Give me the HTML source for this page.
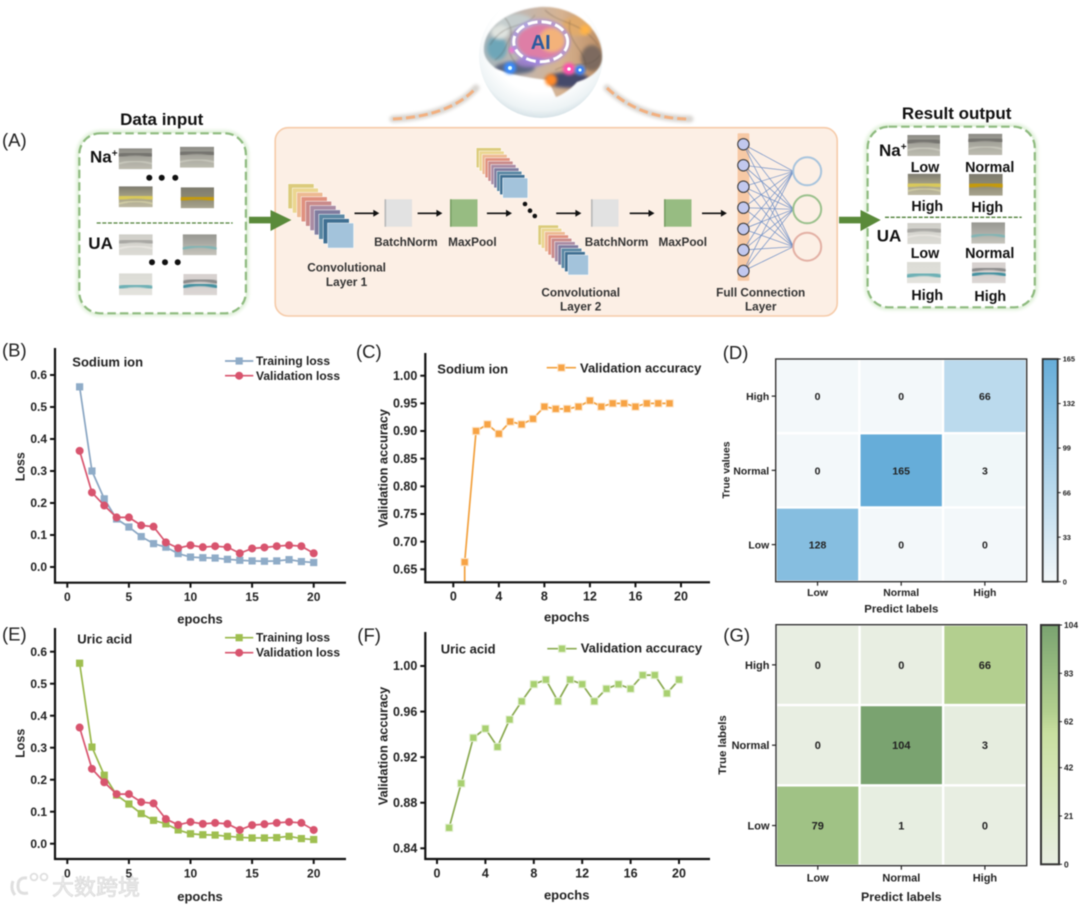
<!DOCTYPE html>
<html lang="en">
<head>
<meta charset="utf-8">
<title>CNN pipeline and training results</title>
<style>
html,body{margin:0;padding:0;background:#fff;width:1080px;height:905px;overflow:hidden}
#figure{display:block;filter:blur(.45px)}
text{font-family:"Liberation Sans","Noto Sans CJK SC",sans-serif}
.b{font-weight:bold}
.lbl{font-weight:bold;fill:#333;font-size:11.8px;text-anchor:middle}
.res{font-weight:bold;fill:#111;font-size:14.3px;text-anchor:middle}
.panel{font-size:18.5px;fill:#222}
.big{font-weight:bold;fill:#111;font-size:17px}
</style>
</head>
<body>
<svg id="figure" xmlns="http://www.w3.org/2000/svg" width="1080" height="905" viewBox="0 0 1080 905">
<defs>
  <filter id="soft" x="-20%" y="-20%" width="140%" height="140%"><feGaussianBlur stdDeviation="1.6"/></filter>
  <filter id="softer" x="-40%" y="-40%" width="180%" height="180%"><feGaussianBlur stdDeviation="3.5"/></filter>
  <filter id="brainSoft" x="-10%" y="-10%" width="120%" height="120%"><feGaussianBlur stdDeviation=".9"/></filter>
  <filter id="thumbBlur" x="-5%" y="-5%" width="110%" height="110%"><feGaussianBlur stdDeviation=".5"/></filter>
  <radialGradient id="sphereFill" cx=".5" cy=".38" r=".62"><stop offset=".66" stop-color="#fff"/><stop offset=".9" stop-color="#edf3f5"/><stop offset="1" stop-color="#d6e2e7"/></radialGradient>
  <linearGradient id="brainFill" x1="0" x2="1" y1="0" y2="0"><stop offset="0" stop-color="#a3b5bc"/><stop offset=".35" stop-color="#c2b6ae"/><stop offset=".65" stop-color="#d6b290"/><stop offset="1" stop-color="#b98a60"/></linearGradient>
  <clipPath id="brainClip"><path d="M484,52C482,30 505,10 540,7C575,5 602,30 602,55C603,70 590,78 577,82C570,90 560,96 556,97L548,80C530,78 510,75 495,68C488,62 485,58 484,52Z"/></clipPath>
  <clipPath id="sodiumAccClip"><rect x="426" y="350" width="284" height="232"/></clipPath>
</defs>
<rect width="1080" height="905" fill="#fff"/>

<g id="pipeline">
  <text class="panel" x="2" y="146.7">(A)</text>

  <g>
    <circle cx="541" cy="56" r="62" fill="url(#sphereFill)"/>
    <g filter="url(#brainSoft)">
    <g clip-path="url(#brainClip)">
      <rect x="480" y="3" width="126" height="96" fill="url(#brainFill)"/>
      <g filter="url(#soft)">
        <ellipse cx="497" cy="48" rx="10" ry="12" fill="#6ea6b8"/>
        <ellipse cx="515" cy="22" rx="18" ry="8" fill="#c5cdcd"/>
        <ellipse cx="500" cy="32" rx="9" ry="7" fill="#dfe3df"/>
        <ellipse cx="578" cy="26" rx="16" ry="10" fill="#e0aa6c"/>
        <ellipse cx="592" cy="58" rx="11" ry="13" fill="#7d6a5e"/>
        <ellipse cx="515" cy="68" rx="20" ry="6" fill="#5b6680"/>
        <ellipse cx="568" cy="80" rx="22" ry="8" fill="#45486a"/>
        <ellipse cx="541" cy="42" rx="24" ry="18" fill="#de7ea6"/>
        <ellipse cx="552" cy="40" rx="13" ry="12" fill="#f3b27a"/>
        <ellipse cx="530" cy="62" rx="14" ry="5" fill="#9a80c8"/>
      </g>
      <g fill="none" stroke="#4f4338" stroke-width=".6" opacity=".55">
        <path d="M490,45C505,20 525,30 535,15"/><path d="M545,10C560,25 580,20 598,45"/>
        <path d="M495,60C510,50 505,35 520,28"/><path d="M570,20C565,45 590,50 585,72"/>
        <path d="M505,18C520,35 500,45 515,62"/><path d="M555,70C575,60 590,70 600,55"/>
      </g>
    </g>
    </g>
    <g>
      <circle cx="510" cy="68" r="6" fill="#3b8cff" filter="url(#soft)"/><circle cx="510" cy="68" r="2" fill="#dff"/>
      <circle cx="569" cy="69" r="6" fill="#ff4fae" filter="url(#soft)"/><circle cx="569" cy="69" r="1.8" fill="#fff"/>
      <circle cx="580" cy="70" r="5" fill="#2f7dff" filter="url(#soft)"/><circle cx="580" cy="70" r="1.6" fill="#dff"/>
      <circle cx="551" cy="80" r="6" fill="#ff8a2a" filter="url(#soft)"/>
      <circle cx="512" cy="50" r="3" fill="#ff6ad0" filter="url(#soft)"/>
      <circle cx="585" cy="30" r="5" fill="#ffb347" filter="url(#soft)"/>
    </g>
    <ellipse cx="540.7" cy="41.7" rx="27" ry="20" fill="none" stroke="#a58cf0" stroke-width="5" opacity=".7" filter="url(#soft)"/>
    <ellipse cx="540.7" cy="41.7" rx="27" ry="20" fill="none" stroke="#fff" stroke-width="3" stroke-dasharray="10 4"/>
    <text x="540.7" y="49" text-anchor="middle" class="b" font-size="20" fill="#2b5a9e">AI</text>
  </g>

  <g>
    <path d="M393,119Q450,116 476,88" fill="none" stroke="#d9d5d0" stroke-width="7" stroke-linecap="round" filter="url(#soft)"/>
    <path d="M393,119Q450,116 476,88" fill="none" stroke="#f2b080" stroke-width="3" stroke-dasharray="9 4"/>
  </g>
  <g>
    <path d="M607,88Q640,119 690,119" fill="none" stroke="#d9d5d0" stroke-width="7" stroke-linecap="round" filter="url(#soft)"/>
    <path d="M607,88Q640,119 690,119" fill="none" stroke="#f2b080" stroke-width="3" stroke-dasharray="9 4"/>
  </g>

  <text class="big" x="161.7" y="125" text-anchor="middle">Data input</text>
  <rect x="79.3" y="133.3" width="166.6" height="180" rx="21" fill="#fff" stroke="#dff0d8" stroke-width="6" filter="url(#soft)"/>
  <rect x="79.3" y="133.3" width="166.6" height="180" rx="21" fill="#fff" stroke="#8fbb80" stroke-width="2.2" stroke-dasharray="8.5 4"/>
  <text class="big" x="90" y="162.7">Na<tspan font-size="10" dy="-6">+</tspan></text>
  <text class="big" x="88.3" y="249">UA</text>
  <line x1="96.7" y1="223" x2="232.7" y2="223" stroke="#4e7f37" stroke-width="1.3" stroke-dasharray="4 1.6"/>

  <rect x="275.2" y="127.7" width="562" height="188.3" rx="13" fill="#fcefe5" stroke="#f6cba9" stroke-width="1.6"/>

  <text class="lbl" x="405.9" y="246">BatchNorm</text>
  <text class="lbl" x="472.4" y="246">MaxPool</text>
  <text class="lbl" x="346.6" y="271.7">Convolutional<tspan x="346.6" dy="14.3">Layer 1</tspan></text>
  <text class="lbl" x="616.6" y="246">BatchNorm</text>
  <text class="lbl" x="682.8" y="246">MaxPool</text>
  <text class="lbl" x="580.7" y="296.7">Convolutional<tspan x="580.7" dy="14">Layer 2</tspan></text>
  <text class="lbl" x="760.7" y="296.7">Full Connection<tspan x="760.7" dy="14">Layer</tspan></text>

  <rect x="737.6" y="133.3" width="11.7" height="147.4" rx="1" fill="#f7c9a5"/>
  <g id="fcNet"></g>
  <g id="stacks"></g>

  <g fill="#111">
    <circle cx="149.3" cy="177.7" r="3"/><circle cx="161.7" cy="177.7" r="3"/><circle cx="175.3" cy="177.7" r="3"/>
    <circle cx="152" cy="262.3" r="3"/><circle cx="165" cy="262.3" r="3"/><circle cx="177.7" cy="262.3" r="3"/>
    <circle cx="525" cy="204" r="2.3"/><circle cx="530" cy="210.7" r="2.3"/><circle cx="534.8" cy="216" r="2.3"/>
  </g>

  <polygon points="249,216.7 270.5,216.7 270.5,210 291.4,220 270.5,231 270.5,223.4 249,223.4" fill="#5a8a3a"/>
  <polygon points="839,216.7 860.5,216.7 860.5,210 880.7,220 860.5,231 860.5,223.4 839,223.4" fill="#5a8a3a"/>

  <text class="big" x="956.7" y="118.8" text-anchor="middle">Result output</text>
  <rect x="867.6" y="126.7" width="167.2" height="180.6" rx="21" fill="#fff" stroke="#dff0d8" stroke-width="6" filter="url(#soft)"/>
  <rect x="867.6" y="126.7" width="167.2" height="180.6" rx="21" fill="#fff" stroke="#8fbb80" stroke-width="2.2" stroke-dasharray="8.5 4"/>
  <polygon points="860.5,210 880.7,220 860.5,231" fill="#5a8a3a"/>
  <line x1="885" y1="217.3" x2="1021.7" y2="217.3" stroke="#4e7f37" stroke-width="1.3" stroke-dasharray="4 1.6"/>
  <text class="big" x="879" y="156">Na<tspan font-size="10" dy="-6">+</tspan></text>
  <text class="big" x="876.7" y="241.7">UA</text>
  <text class="res" x="925" y="172">Low</text>
  <text class="res" x="989.7" y="172">Normal</text>
  <text class="res" x="927.3" y="211">High</text>
  <text class="res" x="987.3" y="212">High</text>
  <text class="res" x="925" y="258">Low</text>
  <text class="res" x="989.7" y="258">Normal</text>
  <text class="res" x="927.3" y="300">High</text>
  <text class="res" x="990.3" y="301">High</text>
  <g id="thumbs"></g>
</g>

<g id="panelB">
  <text class="panel" x="2" y="356.7">(B)</text>
  <text class="b" x="72.3" y="366.7" font-size="13" fill="#222">Sodium ion</text>
  <text class="b" x="256" y="365" font-size="12" fill="#222">Training loss</text>
  <text class="b" x="256" y="380" font-size="12" fill="#222">Validation loss</text>
  <text class="b" x="200" y="623.5" font-size="13" fill="#222" text-anchor="middle">epochs</text>
  <text class="b" transform="translate(24.5,466.7) rotate(-90)" font-size="12.5" fill="#222" text-anchor="middle">Loss</text>
</g>
<g id="panelC">
  <text class="panel" x="356" y="358">(C)</text>
  <text class="b" x="437.3" y="373.3" font-size="13" fill="#222">Sodium ion</text>
  <text class="b" x="580" y="372.3" font-size="13" fill="#222">Validation accuracy</text>
  <text class="b" x="566.7" y="621.7" font-size="13" fill="#222" text-anchor="middle">epochs</text>
  <text class="b" transform="translate(387.5,468.3) rotate(-90)" font-size="12.7" fill="#222" text-anchor="middle">Validation accuracy</text>
</g>
<g id="panelD">
  <text class="panel" x="722.7" y="359">(D)</text>
  <text class="b" x="901.3" y="612.7" font-size="11.4" fill="#222" text-anchor="middle">Predict labels</text>
  <text class="b" transform="translate(729.5,470) rotate(-90)" font-size="10.4" fill="#222" text-anchor="middle">True values</text>
</g>
<g id="panelE">
  <text class="panel" x="2" y="640.7">(E)</text>
  <text class="b" x="77.3" y="643.3" font-size="13" fill="#222">Uric acid</text>
  <text class="b" x="256" y="641.7" font-size="12" fill="#222">Training loss</text>
  <text class="b" x="256" y="656.7" font-size="12" fill="#222">Validation loss</text>
  <text class="b" x="200" y="901" font-size="13" fill="#222" text-anchor="middle">epochs</text>
  <text class="b" transform="translate(24.5,743.3) rotate(-90)" font-size="12.5" fill="#222" text-anchor="middle">Loss</text>
</g>
<g id="panelF">
  <text class="panel" x="357.3" y="641.7">(F)</text>
  <text class="b" x="440.7" y="653.3" font-size="13" fill="#222">Uric acid</text>
  <text class="b" x="580.7" y="652.7" font-size="13" fill="#222">Validation accuracy</text>
  <text class="b" x="566.7" y="899.3" font-size="13" fill="#222" text-anchor="middle">epochs</text>
  <text class="b" transform="translate(387.5,746) rotate(-90)" font-size="12.7" fill="#222" text-anchor="middle">Validation accuracy</text>
</g>
<g id="panelG">
  <text class="panel" x="723.3" y="641.7">(G)</text>
  <text class="b" x="901.3" y="901" font-size="12.4" fill="#222" text-anchor="middle">Predict labels</text>
  <text class="b" transform="translate(726,745) rotate(-90)" font-size="11.4" fill="#222" text-anchor="middle">True labels</text>
</g>

<g opacity=".9">
  <g fill="none" stroke="#dcdcdc" stroke-width="3">
    <path d="M13,881Q10,889 15,895"/><path d="M27,878Q18,877 18,886Q18,895 28,893"/>
    <circle cx="34" cy="877" r="3.4" stroke-width="1.8"/><circle cx="44" cy="877" r="3.4" stroke-width="1.8"/>
  </g>
  <text x="52" y="895" font-size="22" fill="#ececec" stroke="#cfcfcf" stroke-width=".6">大数跨境</text>
</g>

<script>
// ---- chart data ----
const lossEpochs = [1,2,3,4,5,6,7,8,9,10,11,12,13,14,15,16,17,18,19,20];
const sodiumTrainingLoss = [0.563,0.300,0.213,0.150,0.125,0.095,0.073,0.062,0.042,0.031,0.029,0.028,0.024,0.021,0.019,0.018,0.019,0.023,0.017,0.014];
const sodiumValidationLoss = [0.363,0.233,0.192,0.155,0.155,0.130,0.126,0.077,0.059,0.068,0.062,0.065,0.062,0.043,0.058,0.061,0.065,0.068,0.065,0.043];
const uricTrainingLoss = [0.564,0.302,0.214,0.152,0.124,0.094,0.073,0.062,0.043,0.031,0.028,0.027,0.023,0.020,0.018,0.018,0.019,0.023,0.016,0.013];
const uricValidationLoss = [0.363,0.234,0.192,0.155,0.155,0.130,0.126,0.077,0.059,0.068,0.062,0.065,0.062,0.043,0.058,0.061,0.065,0.068,0.065,0.043];
const sodiumAccuracyEpochs = [1,1,2,3,4,5,6,7,8,9,10,11,12,13,14,15,16,17,18,19];
const sodiumAccuracy = [0.55,0.663,0.900,0.912,0.895,0.917,0.912,0.922,0.944,0.940,0.940,0.944,0.955,0.944,0.950,0.950,0.944,0.950,0.950,0.950];
const uricAccuracyEpochs = [1,2,3,4,5,6,7,8,9,10,11,12,13,14,15,16,17,18,19,20];
const uricAccuracy = [0.858,0.897,0.937,0.945,0.929,0.953,0.969,0.984,0.988,0.969,0.988,0.984,0.969,0.980,0.984,0.980,0.992,0.992,0.976,0.988];
const lossXTicks = ['0','5','10','15','20'];
const lossYTicks = ['0.0','0.1','0.2','0.3','0.4','0.5','0.6'];
const accXTicks = ['0','4','8','12','16','20'];
const sodiumAccYTicks = ['0.65','0.70','0.75','0.80','0.85','0.90','0.95','1.00'];
const uricAccYTicks = ['0.84','0.88','0.92','0.96','1.00'];
const matrixColumns = ['Low','Normal','High'];
const matrixRows = ['High','Normal','Low'];
const sodiumMatrix = [[0,0,66],[0,165,3],[128,0,0]];
const uricMatrix = [[0,0,66],[0,104,3],[79,1,0]];
const sodiumBarTicks = [0,33,66,99,132,165];
const uricBarTicks = [0,21,42,62,83,104];

// ---- helpers ----
const NS = 'http://www.w3.org/2000/svg';
function mk(tag, attrs, parent){
  const e = document.createElementNS(NS, tag);
  for (const k in attrs) e.setAttribute(k, attrs[k]);
  parent.appendChild(e);
  return e;
}
function label(parent, x, y, str, size, anchor, name){
  const t = mk('text', {x:x, y:y, 'font-size':size, 'font-weight':'bold', fill:'#222', 'text-anchor':anchor}, parent);
  t.textContent = str;
  
  
  return t;
}
function linear(d0, d1, r0, r1){ return v => r0 + (v - d0) * (r1 - r0) / (d1 - d0); }

function drawAxes(g, cfg){
  const a = mk('path', {d:`M${cfg.left},${cfg.top}V${cfg.bottom}H${cfg.right}`, fill:'none', stroke:'#111', 'stroke-width':2.2}, g);
  
  
  cfg.xTicks.forEach(s => {
    const x = cfg.xScale(Number(s));
    const t = mk('line', {x1:x, x2:x, y1:cfg.bottom, y2:cfg.bottom + 5, stroke:'#111', 'stroke-width':2}, g);
    
    
    label(g, x, cfg.xLabelY, s, cfg.tickSize, 'middle', 'x-tick-label');
  });
  cfg.yTicks.forEach(s => {
    const y = cfg.yScale(Number(s));
    const t = mk('line', {x1:cfg.left - 5, x2:cfg.left, y1:y, y2:y, stroke:'#111', 'stroke-width':2}, g);
    
    
    label(g, cfg.left - 8, y + 4.2, s, cfg.tickSize, 'end', 'y-tick-label');
  });
}
function marker(g, shape, x, y, color, halo, name){
  let m;
  if (shape === 'circle') {
    m = mk('circle', {cx:x, cy:y, r:4, fill:color}, g);
  } else {
    m = mk('rect', {x:x - 3.6, y:y - 3.6, width:7.2, height:7.2, fill:color}, g);
  }
  if (halo) { m.setAttribute('stroke', halo); m.setAttribute('stroke-width', 1); }
  
  
}
function drawSeries(g, xs, ys, xScale, yScale, style){
  const pts = xs.map((x, i) => xScale(x) + ',' + yScale(ys[i])).join(' ');
  const line = mk('polyline', {points:pts, fill:'none', stroke:style.line, 'stroke-width':1.7}, g);
  
  
  xs.forEach((x, i) => marker(g, style.shape, xScale(x), yScale(ys[i]), style.fill, style.halo, style.name + '-point'));
}
function legendKey(g, x1, x2, y, style){
  const l = mk('line', {x1:x1, x2:x2, y1:y, y2:y, stroke:style.line, 'stroke-width':1.7}, g);
  
  
  marker(g, style.shape, (x1 + x2) / 2, y, style.fill, style.halo, style.name + '-legend-marker');
}

// ---- loss panels ----
function lossPanel(id, top, zeroY, sixY, bottom, train, val, trainStyle, valStyle, k1, k2){
  const g = document.getElementById(id);
  const xScale = linear(0, 20, 67.3, 313.7);
  const yScale = linear(0, 0.6, zeroY, sixY);
  drawAxes(g, {left:55, top:top, bottom:bottom, right:346, xScale, yScale, xTicks:lossXTicks, yTicks:lossYTicks, tickSize:12, xLabelY:bottom + 18.5});
  drawSeries(g, lossEpochs, train, xScale, yScale, trainStyle);
  drawSeries(g, lossEpochs, val, xScale, yScale, valStyle);
  legendKey(g, 225, 253.3, k1, trainStyle);
  legendKey(g, 225, 253.3, k2, valStyle);
}
const valStyle = {line:'#d8546e', fill:'#d8546e', shape:'circle', name:'validation-loss'};
lossPanel('panelB', 348, 567, 375, 582.7, sodiumTrainingLoss, sodiumValidationLoss,
  {line:'#88a5c2', fill:'#8facc8', shape:'square', name:'training-loss'}, valStyle, 361, 375.7);
lossPanel('panelE', 628, 843.7, 651.7, 859, uricTrainingLoss, uricValidationLoss,
  {line:'#98b84a', fill:'#9fbf50', shape:'square', name:'training-loss'}, valStyle, 637.7, 652.7);

// ---- accuracy panels ----
(function(){
  const g = document.getElementById('panelC');
  const xScale = linear(0, 20, 453.3, 681);
  const yScale = linear(0.65, 1, 569.3, 375.7);
  const plot = mk('g', {'clip-path':'url(#sodiumAccClip)'}, g);
  
  
  const style = {line:'#f2a03d', fill:'#f7a344', halo:'#fde3c6', shape:'square', name:'validation-accuracy'};
  drawSeries(plot, sodiumAccuracyEpochs, sodiumAccuracy, xScale, yScale, style);
  drawAxes(g, {left:425.3, top:353, bottom:582.3, right:710, xScale, yScale, xTicks:accXTicks, yTicks:sodiumAccYTicks, tickSize:12.5, xLabelY:600.7});
  legendKey(g, 546.7, 576, 367.7, style);
})();
(function(){
  const g = document.getElementById('panelF');
  const xScale = linear(0, 20, 437, 679);
  const yScale = linear(0.84, 1, 848.3, 666);
  const style = {line:'#8aaa50', fill:'#a8d070', halo:'#e3f0d2', shape:'square', name:'validation-accuracy'};
  drawSeries(g, uricAccuracyEpochs, uricAccuracy, xScale, yScale, style);
  drawAxes(g, {left:425.3, top:632, bottom:859, right:710, xScale, yScale, xTicks:accXTicks, yTicks:uricAccYTicks, tickSize:12.5, xLabelY:877.3});
  legendKey(g, 547.3, 576.7, 648.7, style);
})();

// ---- confusion matrices ----
function hexToRgb(h){ return [1,3,5].map(i => parseInt(h.substr(i, 2), 16)); }
function rampColor(stops, t){
  for (let i = 1; i < stops.length; i++) {
    if (t <= stops[i][0]) {
      const f = (t - stops[i-1][0]) / (stops[i][0] - stops[i-1][0]);
      const a = hexToRgb(stops[i-1][1]), b = hexToRgb(stops[i][1]);
      return 'rgb(' + a.map((c, k) => Math.round(c + (b[k] - c) * f)).join(',') + ')';
    }
  }
  return stops[stops.length - 1][1];
}
function matrixPanel(id, box, bar, matrix, barTicks, ramp, sizes){
  const g = document.getElementById(id);
  const maxV = barTicks[barTicks.length - 1];
  const cw = box.w / 3, ch = box.h / 3;
  matrix.forEach((row, r) => row.forEach((v, c) => {
    const rect = mk('rect', {x:box.x + c * cw + 1.2, y:box.y + r * ch + 1.2, width:cw - 2.4, height:ch - 2.4, fill:rampColor(ramp, v / maxV)}, g);
    
    
    label(g, box.x + (c + .5) * cw, box.y + (r + .5) * ch + 4, String(v), sizes.cell, 'middle', 'matrix-cell-value');
  }));
  const frame = mk('rect', {x:box.x, y:box.y, width:box.w, height:box.h, fill:'none', stroke:'#333', 'stroke-width':1.4}, g);
  
  
  matrixColumns.forEach((s, c) => {
    const x = box.x + (c + .5) * cw;
    const t = mk('line', {x1:x, x2:x, y1:box.y + box.h, y2:box.y + box.h + 4, stroke:'#222', 'stroke-width':1.2}, g);
    
    
    label(g, x, sizes.xLabelY, s, sizes.tick, 'middle', 'x-tick-label');
  });
  matrixRows.forEach((s, r) => {
    const y = box.y + (r + .5) * ch;
    const t = mk('line', {x1:box.x - 4, x2:box.x, y1:y, y2:y, stroke:'#222', 'stroke-width':1.2}, g);
    
    
    label(g, box.x - 6.5, y + 4, s, sizes.tick, 'end', 'y-tick-label');
  });
  const gid = id + 'Bar';
  const defs = mk('defs', {}, g);
  const lg = mk('linearGradient', {id:gid, x1:0, x2:0, y1:1, y2:0}, defs);
  ramp.forEach(st => mk('stop', {offset:st[0], 'stop-color':st[1]}, lg));
  const cb = mk('rect', {x:bar.x, y:bar.y, width:bar.w, height:bar.h, fill:'url(#' + gid + ')', stroke:'#333', 'stroke-width':sizes.barStroke}, g);
  
  
  const barScale = linear(0, maxV, bar.y + bar.h, bar.y);
  barTicks.forEach(v => {
    const y = barScale(v);
    const t = mk('line', {x1:bar.x + bar.w, x2:bar.x + bar.w + 3, y1:y, y2:y, stroke:'#222', 'stroke-width':1}, g);
    
    
    label(g, bar.x + bar.w + 5, y + sizes.bar * .36, String(v), sizes.bar, 'start', 'colorbar-tick-label');
  });
}
matrixPanel('panelD', {x:775.7, y:359, w:251, h:222.7}, {x:1042.7, y:359, w:15, h:222.7}, sodiumMatrix, sodiumBarTicks,
  [[0,'#f3f8fa'],[1,'#66add9']], {cell:10.5, tick:10.4, xLabelY:596, bar:7.4, barStroke:1.8});
matrixPanel('panelG', {x:776, y:624.7, w:250.7, h:241}, {x:1041, y:625, w:18, h:239.3}, uricMatrix, uricBarTicks,
  [[0,'#e8eee2'],[0.4,'#d3e5b2'],[0.55,'#c8df9f'],[0.635,'#b3cf8f'],[0.76,'#a0c285'],[1,'#7aa370']], {cell:11, tick:11, xLabelY:881.7, bar:8.4, barStroke:2});

// ---- diagram pieces ----
(function(){
  const g = document.getElementById('fcNet');
  const ys = [144.3,165.3,186.7,207.7,229,250,271];
  const outs = [171.3,209.3,246.7];
  ys.forEach(y => outs.forEach(o => {
    const l = mk('line', {x1:743.4, y1:y, x2:793.4, y2:o, stroke:'#6f8fc6', 'stroke-width':.7}, g);
    
    
  }));
  ys.forEach(y => {
    const c = mk('circle', {cx:743.4, cy:y, r:5.7, fill:'#c2c8ee', stroke:'#333', 'stroke-width':1}, g);
    
    
  });
  [['#a8c4dd'],['#9bc18d'],['#e3b0a4']].forEach((col, i) => {
    const c = mk('circle', {cx:807.2, cy:outs[i], r:14, fill:'none', stroke:col[0], 'stroke-width':2}, g);
    
    
  });
})();
(function(){
  const g = document.getElementById('stacks');
  const colors = ['#dccb7c','#ebd690','#edb992','#e0917f','#c98a8a','#a98ba3','#7f7c9f','#5a87a3','#3f6f92','#a3c3db'];
  function stack(x0, y0, dx, dy, w, h){
    colors.forEach((col, i) => {
      const r = mk('rect', {x:x0 + i * dx, y:y0 + i * dy, width:w, height:h, fill:col, stroke:'#fff', 'stroke-width':.5}, g);
      
      
    });
  }
  stack(288, 183.7, 4.4, 4.37, 26, 25);
  stack(476.2, 147.7, 2.95, 3.37, 25, 20);
  stack(538, 225, 3.33, 3.33, 20.5, 20);
  function cube(x, col, side){
    const s = mk('rect', {x:x, y:199.3, width:27.5, height:27.4, fill:col}, g);
    
    
    const e = mk('rect', {x:x, y:199.3, width:1.6, height:27.4, fill:side}, g);
    
    
  }
  cube(384.5, '#e2e2e2', '#b9b9b9');
  cube(450, '#97bc82', '#7a9f66');
  cube(591, '#e2e2e2', '#b9b9b9');
  cube(664, '#97bc82', '#7a9f66');
  function arrow(x1, x2){
    const l = mk('line', {x1:x1, x2:x2 - 4, y1:213.3, y2:213.3, stroke:'#111', 'stroke-width':1.6}, g);
    
    
    const h = mk('polygon', {points:`${x2},213.3 ${x2 - 6},209.8 ${x2 - 6},216.8`, fill:'#111'}, g);
    
    
  }
  arrow(354.5, 379.3);
  arrow(417.6, 442.4);
  arrow(486.9, 512);
  arrow(556.2, 581.4);
  arrow(629.7, 654.5);
  arrow(702, 726.9);
})();
(function(){
  const root = document.getElementById('thumbs');
  let uid = 0;
  const kinds = {
    naLow:{top:'#8c8b85', mid:'#a9a89f', low:'#bdbcb0', arcs:[['#76756f',4.5,5],['#cfcfc3',1.4,13]]},
    naHighY:{top:'#7d7b70', mid:'#a8a385', low:'#bdb9a2', arcs:[['#d9c95a',5,10],['#e0dcae',1.2,15]]},
    naHighA:{top:'#7d7b70', mid:'#8e8a72', low:'#a8a48f', arcs:[['#c49a10',5,10]]},
    uaLow:{top:'#cfcec8', mid:'#d6d5cf', low:'#dcdbd5', arcs:[['#a9a8a4',4.5,6],['#eeebe6',1.3,12]]},
    uaNormal:{top:'#979791', mid:'#aeaea7', low:'#c6c5bd', arcs:[['#7fb5b5',2.6,12]]},
    uaHighA:{top:'#dcdcd6', mid:'#dfdfd9', low:'#e4e3de', arcs:[['#6db0b5',4,12]]},
    uaHighB:{top:'#d8d2d0', mid:'#d4cfcd', low:'#dcd7d5', arcs:[['#8b8b8b',3.4,6],['#3f8f9f',3.2,10.5]]}
  };
  function thumb(x, y, w, h, kind){
    const k = kinds[kind];
    const s = mk('svg', {x:x, y:y, width:w, height:h, viewBox:`0 0 ${w} ${h}`}, root);
    
    
    const id = 'tg' + (uid++);
    const d = mk('linearGradient', {id:id, x1:0, x2:0, y1:0, y2:1}, s);
    mk('stop', {offset:0, 'stop-color':k.top}, d);
    mk('stop', {offset:.5, 'stop-color':k.mid}, d);
    mk('stop', {offset:1, 'stop-color':k.low}, d);
    mk('rect', {width:w, height:h, fill:'url(#' + id + ')'}, s);
    k.arcs.forEach(a => {
      mk('path', {d:`M-2,${a[2] + 3}Q${w / 2},${a[2] - 3} ${w + 2},${a[2] + 3}`, fill:'none', stroke:a[0], 'stroke-width':a[1], filter:'url(#thumbBlur)'}, s);
    });
  }
  thumb(118.7,148.3,33.3,21,'naLow');
  thumb(180,146.7,34,21,'naLow');
  thumb(118.7,186.3,34,21,'naHighY');
  thumb(180.7,187.3,33.3,21,'naHighA');
  thumb(119,234.3,33.7,21,'uaLow');
  thumb(182.7,234.3,34,21,'uaNormal');
  thumb(119,273.3,33.3,22,'uaHighA');
  thumb(183.3,274,33.7,21.3,'uaHighB');
  thumb(907.3,135,32.7,21,'naLow');
  thumb(968.3,133.7,34,21.3,'naLow');
  thumb(907.7,173.7,33,21.3,'naHighY');
  thumb(969,174,33.7,21.7,'naHighA');
  thumb(907.3,223,33.7,21,'uaLow');
  thumb(971.3,222.3,33.7,21.4,'uaNormal');
  thumb(907,262,33.7,21.3,'uaHighA');
  thumb(972,262.3,33.7,21,'uaHighB');
})();
</script>
</svg>
</body>
</html>
